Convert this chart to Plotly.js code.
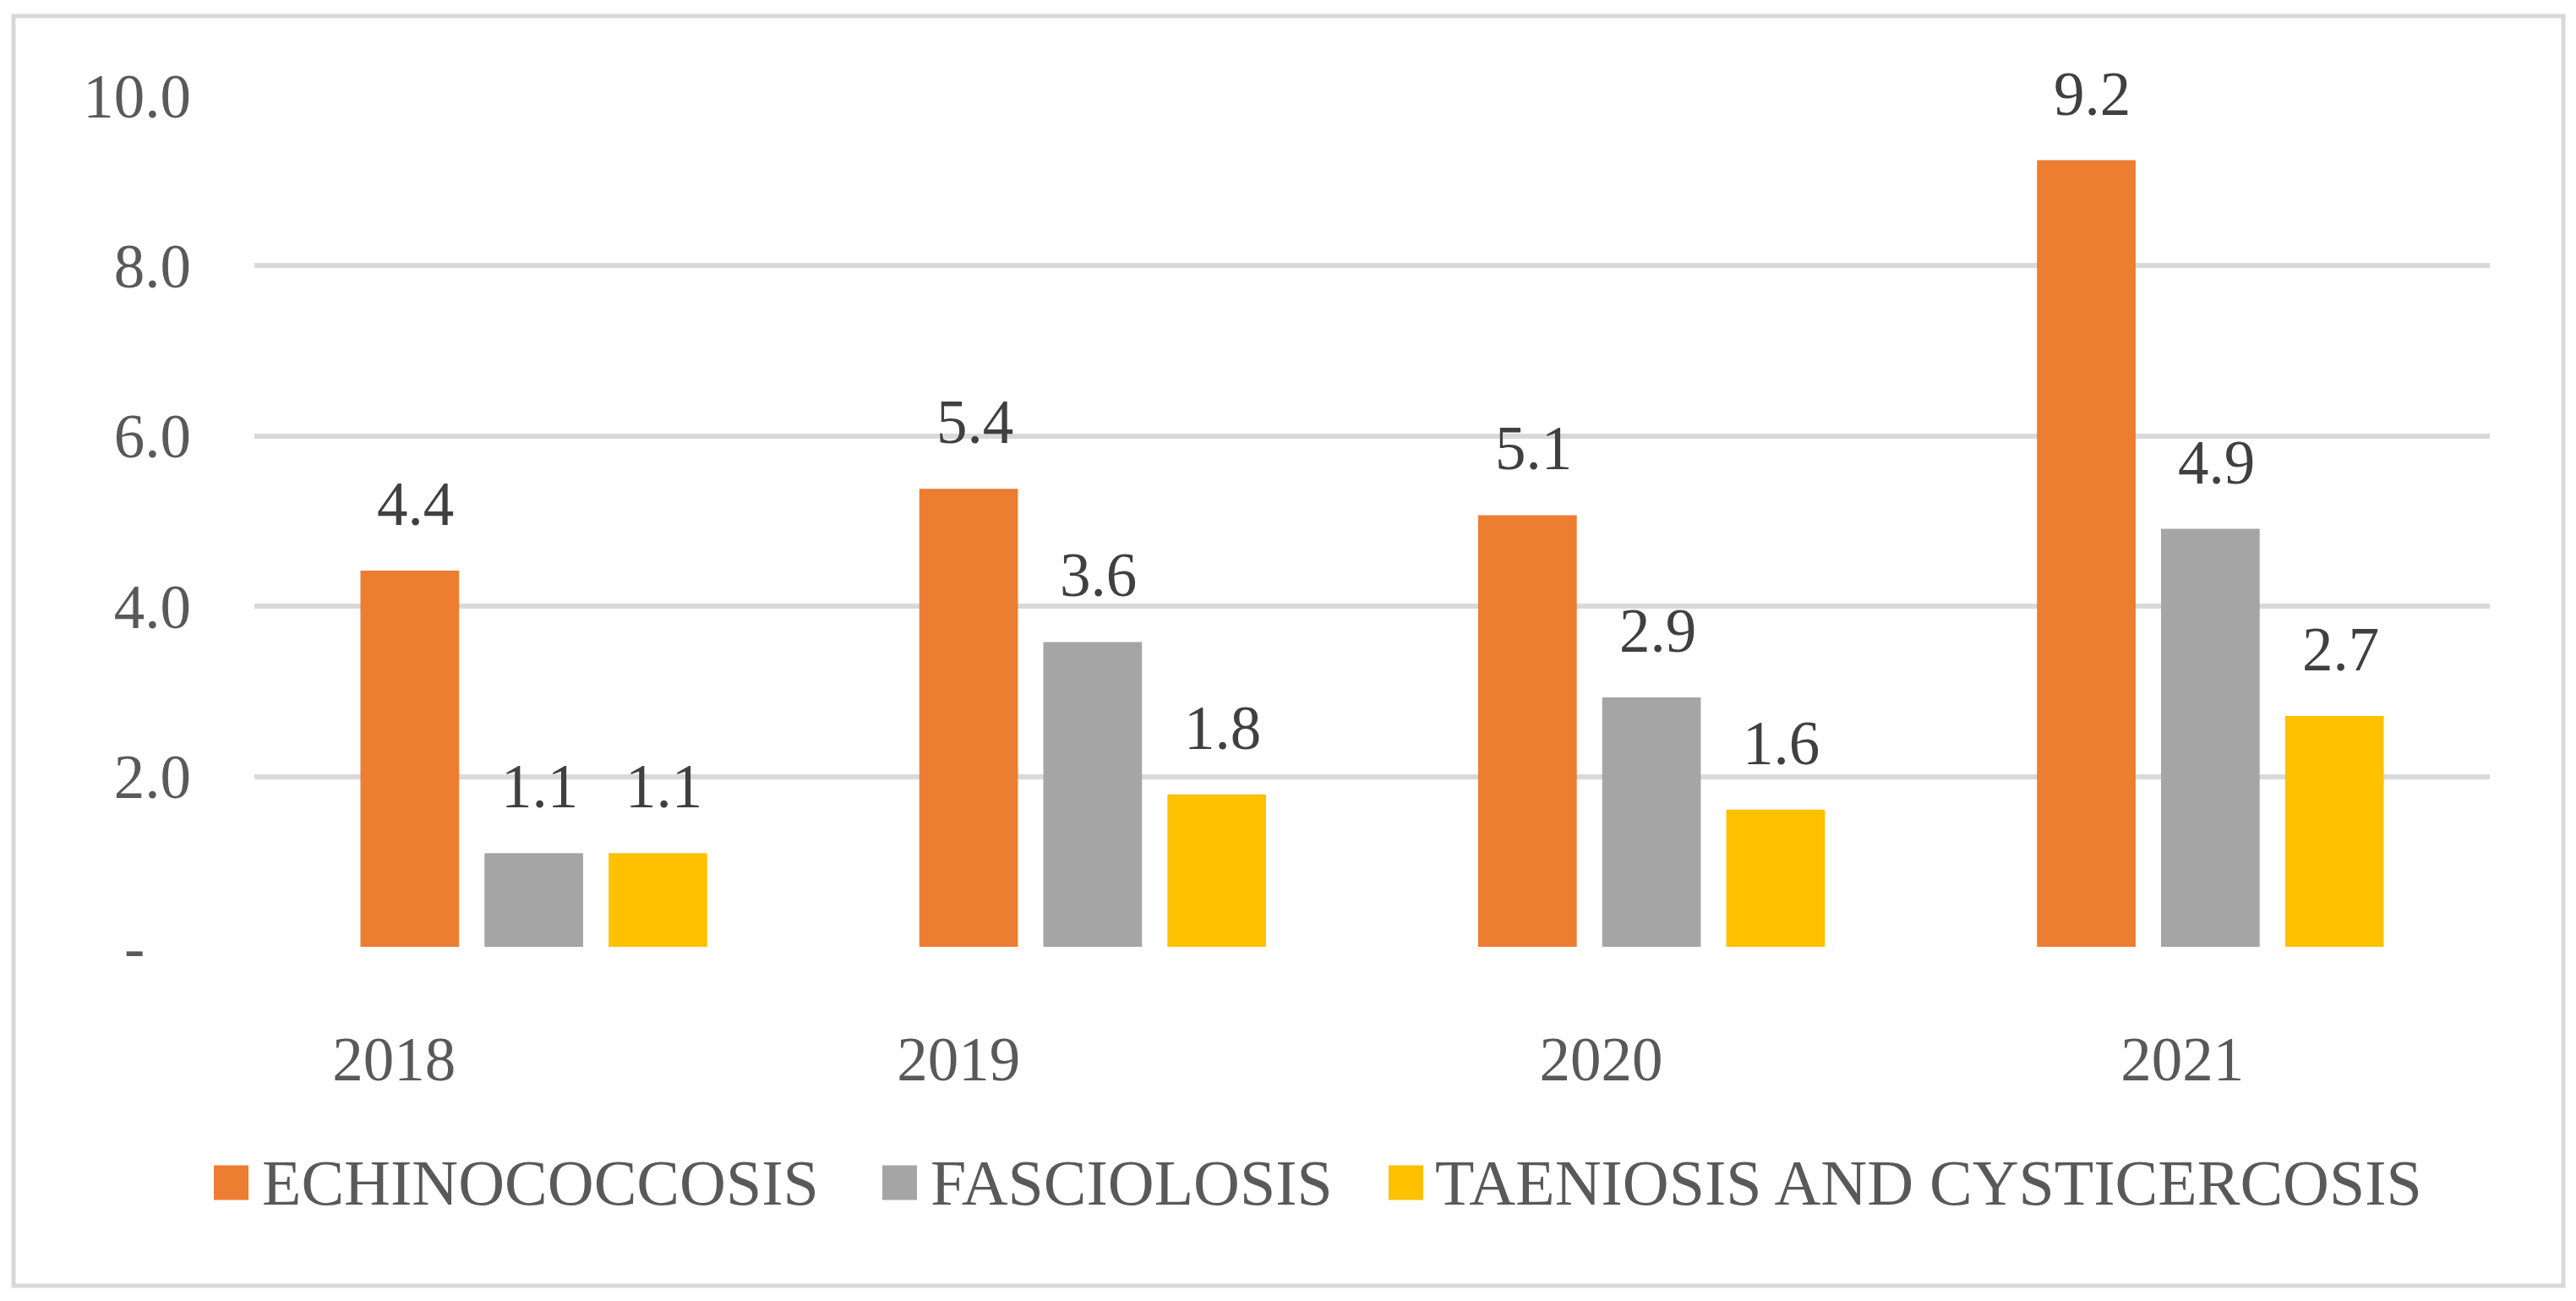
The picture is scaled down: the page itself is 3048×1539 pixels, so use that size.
<!DOCTYPE html>
<html>
<head>
<meta charset="utf-8">
<script src="https://cdn.plot.ly/plotly-3.0.1.min.js"></script>
<style>html,body{margin:0;padding:0;background:#fff;}#chart{width:3048px;height:1539px;}</style>
</head>
<body>
<div id="chart"></div>
<script>
// ---- data ----
const years = ['2018', '2019', '2020', '2021'];
const seriesNames = ['ECHINOCOCCOSIS', 'FASCIOLOSIS', 'TAENIOSIS AND CYSTICERCOSIS'];
const echinococcosis = [4.42, 5.38, 5.07, 9.24];
const fasciolosis = [1.10, 3.58, 2.93, 4.91];
const taeniosis = [1.10, 1.79, 1.61, 2.71];
const seriesColors = ['#ED7D31', '#A5A5A5', '#FFC000'];
const yTickVals = [0, 2, 4, 6, 8, 10];
const yTickText = ['-\u00a0\u00a0\u00a0', '2.0', '4.0', '6.0', '8.0', '10.0'];

// ---- layout geometry ----
const W = 3048, H = 1539;
const M = {l: 301, r: 102, t: 113, b: 419};
const PW = W - M.l - M.r, PH = H - M.t - M.b;
const px2x = px => (px - M.l) / PW;
const py2y = py => (H - M.b - py) / PH;
const FONT = 'Liberation Serif';
const FS = 73;
const bargap = 0.334, bargroupgap = 0.205;
const slot = (1 - bargap) / 3;
const xIdx = years.map((y, i) => i);
const xLabelShift = [-0.25, -0.24, -0.09, -0.05];

const allSeries = [echinococcosis, fasciolosis, taeniosis];
const traces = allSeries.map((vals, k) => ({
  type: 'bar', x: xIdx, y: vals, name: seriesNames[k],
  marker: {color: seriesColors[k], line: {width: 0}},
  hoverinfo: 'skip'
}));

const annotations = [];
allSeries.forEach((vals, k) => {
  vals.forEach((v, i) => {
    annotations.push({
      x: i + (k - 1) * slot, y: v, xref: 'x', yref: 'y',
      text: v.toFixed(1), showarrow: false, yanchor: 'bottom', xanchor: 'center',
      yshift: 36, xshift: 7,
      font: {family: FONT, size: FS, color: '#404040'}
    });
  });
});

// custom legend
const legendSquareX = [253, 1044, 1643];
const legendTextX = [308, 1099, 1696];
const legendCY = 1399, sq = 41;
const shapes = [{
  type: 'rect', xref: 'paper', yref: 'paper',
  x0: px2x(16), x1: px2x(3033), y0: py2y(1521), y1: py2y(19),
  line: {color: '#D9D9D9', width: 5}, fillcolor: 'rgba(0,0,0,0)', layer: 'below'
}];
seriesNames.forEach((n, k) => {
  shapes.push({
    type: 'rect', xref: 'paper', yref: 'paper',
    x0: px2x(legendSquareX[k]), x1: px2x(legendSquareX[k] + sq),
    y0: py2y(legendCY + sq / 2), y1: py2y(legendCY - sq / 2),
    line: {width: 0}, fillcolor: seriesColors[k]
  });
  annotations.push({
    x: px2x(legendTextX[k]), y: py2y(legendCY), xref: 'paper', yref: 'paper',
    text: n, showarrow: false, xanchor: 'left', yanchor: 'middle',
    font: {family: FONT, size: 76, color: '#595959'}
  });
});

const layout = {
  width: W, height: H,
  margin: M,
  paper_bgcolor: '#FFFFFF', plot_bgcolor: '#FFFFFF',
  barmode: 'group', bargap: bargap, bargroupgap: bargroupgap,
  showlegend: false,
  font: {family: FONT, size: FS, color: '#595959'},
  xaxis: {
    type: 'linear', range: [-0.5, years.length - 0.5],
    tickmode: 'array', tickvals: xIdx.map((i) => i + xLabelShift[i]), ticktext: years,
    showgrid: false, zeroline: false, showline: false, ticks: '',
    ticklabelstandoff: 84,
    tickfont: {family: FONT, size: FS, color: '#595959'}
  },
  yaxis: {
    range: [0, 10], tickmode: 'array', tickvals: yTickVals, ticktext: yTickText,
    showgrid: true, gridcolor: '#D9D9D9', gridwidth: 6,
    zeroline: false, showline: false, ticks: '',
    ticklabelstandoff: 74,
    tickfont: {family: FONT, size: FS, color: '#595959'}
  },
  shapes: shapes,
  annotations: annotations
};

Plotly.newPlot('chart', traces, layout, {displayModeBar: false, staticPlot: true});
</script>
</body>
</html>
